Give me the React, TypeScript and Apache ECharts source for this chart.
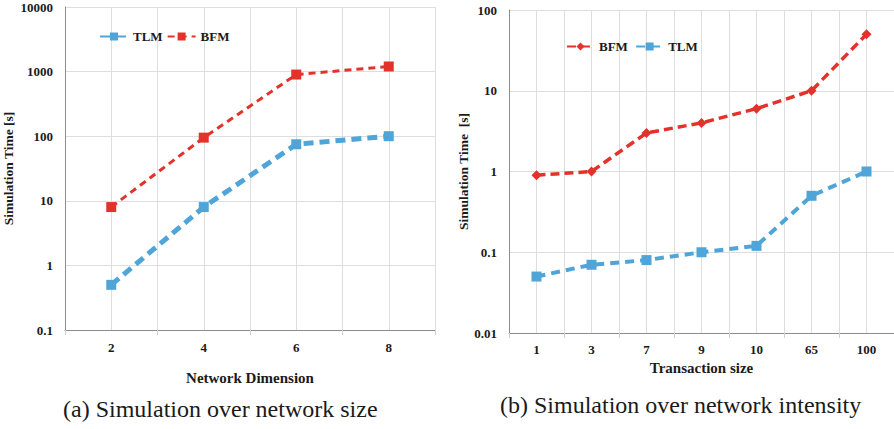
import React, { useEffect, useRef } from "react";
import * as echarts from "echarts";

// Panel (a): simulation time vs. network dimension
const dimCategories = ["2", "4", "6", "8"];
const dimTLM = [0.5, 8, 75, 100];
const dimBFM = [8, 95, 900, 1200];

// Panel (b): simulation time vs. transaction size
const sizeCategories = ["1", "3", "7", "9", "10", "65", "100"];
const sizeBFM = [0.9, 1, 3, 4, 6, 10, 50];
const sizeTLM = [0.05, 0.07, 0.08, 0.1, 0.12, 0.5, 1];

const BLUE = "#4fa5d8";
const RED = "#e3322a";
const SERIF = "Liberation Serif";
const GRID_COLOR = "#dedede";
const AXIS_COLOR = "#8c8c8c";
const INK = "#1a1a1a";

const labelFont = { fontFamily: SERIF, fontWeight: "bold" as const, fontSize: 13, color: INK };

function catAxis(gridIndex: number, data: string[], name: string, nameGap: number, margin: number) {
  return {
    type: "category",
    gridIndex,
    data,
    boundaryGap: true,
    name,
    nameLocation: "middle",
    nameGap,
    nameTextStyle: { fontFamily: SERIF, fontWeight: "bold", fontSize: 15, color: INK },
    axisLine: { show: true, lineStyle: { color: AXIS_COLOR, width: 1 } },
    axisTick: { show: true, length: 5, lineStyle: { color: "#cfcfcf" } },
    axisLabel: { ...labelFont, margin },
    splitLine: { show: false },
  };
}

// Helper axis drawing a vertical grid line at every category boundary and centre
function gridAxis(gridIndex: number, count: number) {
  return {
    type: "value",
    gridIndex,
    position: "top",
    min: 0,
    max: count * 2,
    interval: 1,
    axisLine: { show: false },
    axisTick: { show: false },
    axisLabel: { show: false },
    splitLine: { show: true, lineStyle: { color: GRID_COLOR, width: 1 } },
  };
}

function logAxis(gridIndex: number, min: number, max: number, name: string, nameGap: number) {
  return {
    type: "log",
    logBase: 10,
    gridIndex,
    min,
    max,
    name,
    nameLocation: "middle",
    nameRotate: 90,
    nameGap,
    nameTextStyle: { fontFamily: SERIF, fontWeight: "bold", fontSize: 13.5, color: INK },
    axisLine: { show: true, lineStyle: { color: AXIS_COLOR, width: 1 } },
    axisTick: { show: false },
    axisLabel: { ...labelFont, margin: 12, formatter: (v: number) => String(v) },
    splitLine: { show: true, lineStyle: { color: GRID_COLOR, width: 1 } },
  };
}

const legendText = { fontFamily: SERIF, fontWeight: "bold" as const, fontSize: 13, color: INK };

export default function App() {
  const ref = useRef<HTMLDivElement>(null);

  useEffect(() => {
    document.body.style.margin = "0";
    if (!ref.current) return;
    const chart = echarts.init(ref.current, undefined, { renderer: "svg" });

    chart.setOption({
      animation: false,
      backgroundColor: "#ffffff",
      textStyle: { fontFamily: SERIF },
      grid: [
        { left: 65, top: 7, right: 459, bottom: 99 },
        { left: 509, top: 10, right: -3, bottom: 96 },
      ],
      xAxis: [
        catAxis(0, dimCategories, "Network Dimension", 40, 11),
        catAxis(1, sizeCategories, "Transaction size", 27, 10),
        gridAxis(0, dimCategories.length),
        gridAxis(1, sizeCategories.length),
      ],
      yAxis: [
        logAxis(0, 0.1, 10000, "Simulation Time [s]", 50),
        logAxis(1, 0.01, 100, "Simulation Time  [s]", 34),
      ],
      legend: [
        {
          data: ["TLM", "BFM"],
          left: 94,
          top: 25,
          itemWidth: 28,
          itemHeight: 10,
          itemGap: 4,
          textStyle: legendText,
        },
        {
          data: ["BFM ", "TLM "],
          left: 561,
          top: 35,
          itemWidth: 27,
          itemHeight: 10,
          itemGap: 4,
          textStyle: legendText,
        },
      ],
      series: [
        {
          name: "TLM",
          type: "line",
          xAxisIndex: 0,
          yAxisIndex: 0,
          data: dimTLM,
          symbol: "rect",
          symbolSize: 10,
          itemStyle: { color: BLUE },
          lineStyle: { color: BLUE, width: 5, type: [10, 6] },
        },
        {
          name: "BFM",
          type: "line",
          xAxisIndex: 0,
          yAxisIndex: 0,
          data: dimBFM,
          symbol: "rect",
          symbolSize: 10,
          itemStyle: { color: RED },
          lineStyle: { color: RED, width: 3, type: [7, 5] },
        },
        {
          name: "BFM ",
          type: "line",
          xAxisIndex: 1,
          yAxisIndex: 1,
          data: sizeBFM,
          symbol: "diamond",
          symbolSize: 10,
          itemStyle: { color: RED },
          lineStyle: { color: RED, width: 3.5, type: [9, 5] },
        },
        {
          name: "TLM ",
          type: "line",
          xAxisIndex: 1,
          yAxisIndex: 1,
          data: sizeTLM,
          symbol: "rect",
          symbolSize: 10,
          itemStyle: { color: BLUE },
          lineStyle: { color: BLUE, width: 4, type: [9, 6] },
        },
      ],
      graphic: [
        {
          type: "text",
          left: 63,
          top: 397,
          style: { text: "(a) Simulation over network size", font: `24px "${SERIF}"`, fill: INK },
        },
        {
          type: "text",
          left: 500,
          top: 393,
          style: { text: "(b) Simulation over network intensity", font: `24px "${SERIF}"`, fill: INK },
        },
      ],
    });

    return () => chart.dispose();
  }, []);

  return <div ref={ref} style={{ width: 894, height: 429 }} />;
}
